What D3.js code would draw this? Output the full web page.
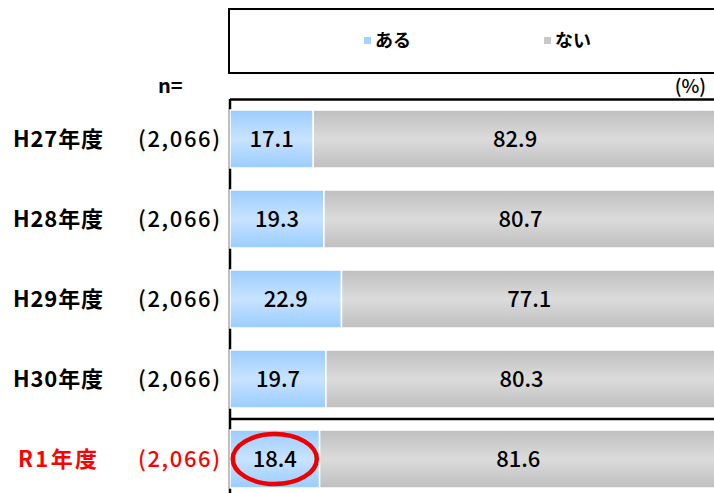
<!DOCTYPE html>
<html>
<head>
<meta charset="utf-8">
<script src="https://cdn.jsdelivr.net/npm/d3@7"></script>
<style>
  body { margin: 0; background: #fff; }
  svg text { font-family: "Noto Sans CJK JP", "Noto Sans", sans-serif; }
</style>
</head>
<body>
<div id="chart"></div>
<script>
/* DATA */
const years = ["H27年度", "H28年度", "H29年度", "H30年度", "R1年度"];
const nLabels = ["(2,066)", "(2,066)", "(2,066)", "(2,066)", "(2,066)"];
const aru = [17.1, 19.3, 22.9, 19.7, 18.4];
const nai = [82.9, 80.7, 77.1, 80.3, 81.6];
const seriesNames = ["ある", "ない"];
const highlightYear = "R1年度";

const width = 714,
  height = 493;

const svg = d3.select("#chart")
  .append("svg")
  .attr("width", width)
  .attr("height", height);

// gradients (dark edges, light middle)
const defs = svg.append("defs");
function grad(id, edge, mid) {
  const g = defs.append("linearGradient")
    .attr("id", id)
    .attr("x1", 0).attr("y1", 0).attr("x2", 0).attr("y2", 1);
  g.append("stop").attr("offset", "0%").attr("stop-color", edge);
  g.append("stop").attr("offset", "50%").attr("stop-color", mid);
  g.append("stop").attr("offset", "100%").attr("stop-color", edge);
}
grad("g-aru", "#9accff", "#c8e3ff");
grad("g-nai", "#bfbfbf", "#dbdbdb");
const fills = ["url(#g-aru)", "url(#g-nai)"];
const swatch = ["#a6d2ff", "#c8c8c8"];

/* SCALES */
const xScale = d3.scaleLinear().domain([0, 100]).range([230, 717]);
const yScale = d3.scaleBand()
  .domain(years)
  .range([99, 499])
  .paddingInner(0.275)
  .paddingOuter(0.1375);

// stacked rows
const rows = years.map((y, i) => ({ year: y, n: nLabels[i], aru: aru[i], nai: nai[i] }));
const stack = d3.stack().keys(["aru", "nai"])(rows);

/* LEGEND BOX */
svg.append("rect")
  .attr("x", 229).attr("y", 9)
  .attr("width", 520).attr("height", 64)
  .attr("fill", "none")
  .attr("stroke", "#000")
  .attr("stroke-width", 2);

const legendX = [364, 544];
const legend = svg.append("g").selectAll("g")
  .data(seriesNames)
  .join("g")
  .attr("transform", (d, i) => `translate(${legendX[i]},41)`);
legend.append("rect")
  .attr("x", 0).attr("y", -4)
  .attr("width", 7).attr("height", 7)
  .attr("fill", (d, i) => swatch[i]);
legend.append("text")
  .attr("x", 11).attr("y", 0)
  .attr("dy", "0.36em")
  .attr("font-size", 18)
  .attr("font-weight", "bold")
  .text(d => d);

/* FRAME / AXIS */
svg.append("text")
  .attr("x", 706).attr("y", 93)
  .attr("text-anchor", "end")
  .attr("font-size", 19)
  .attr("font-weight", 500)
  .text("(%)");

svg.append("text")
  .attr("x", 158).attr("y", 93)
  .attr("font-size", 20)
  .attr("font-weight", "bold")
  .text("n=");

svg.append("line")
  .attr("x1", xScale(0)).attr("x2", width)
  .attr("y1", 99.5).attr("y2", 99.5)
  .attr("stroke", "#000").attr("stroke-width", 2.5);

svg.append("line")
  .attr("x1", xScale(0)).attr("x2", xScale(0))
  .attr("y1", 99).attr("y2", height)
  .attr("stroke", "#000").attr("stroke-width", 2.5);

// separator above the highlighted year
const sepY = yScale(highlightYear) - yScale.step() * yScale.paddingInner() / 2;
svg.append("line")
  .attr("x1", xScale(0)).attr("x2", width)
  .attr("y1", sepY).attr("y2", sepY)
  .attr("stroke", "#000").attr("stroke-width", 2.5);

/* BARS */
const layer = svg.append("g").selectAll("g")
  .data(stack)
  .join("g")
  .attr("fill", (d, i) => fills[i]);

layer.selectAll("rect")
  .data(d => d)
  .join("rect")
  .attr("x", d => xScale(d[0]))
  .attr("y", d => yScale(d.data.year))
  .attr("width", d => xScale(d[1]) - xScale(d[0]))
  .attr("height", yScale.bandwidth())
  .attr("stroke", "#fff")
  .attr("stroke-width", 1.5);

layer.selectAll("text")
  .data(d => d.map(v => ({ v, key: d.key })))
  .join("text")
  .attr("x", d => xScale((d.v[0] + d.v[1]) / 2))
  .attr("y", d => yScale(d.v.data.year) + yScale.bandwidth() / 2)
  .attr("dy", "0.36em")
  .attr("text-anchor", "middle")
  .attr("font-size", 22)
  .attr("font-weight", 500)
  .attr("fill", "#000")
  .text(d => d.v.data[d.key].toFixed(1));

/* ROW LABELS */
const labelColor = d => d === highlightYear ? "#ff0000" : "#000";
svg.append("g").selectAll("text")
  .data(years)
  .join("text")
  .attr("x", d => d.length === 5 ? 13 : 18)
  .attr("y", d => yScale(d) + yScale.bandwidth() / 2)
  .attr("dy", "0.36em")
  .attr("font-size", 22)
  .attr("font-weight", "bold")
  .attr("textLength", d => d.length === 5 ? 90 : 79)
  .attr("fill", labelColor)
  .text(d => d);

svg.append("g").selectAll("text")
  .data(rows)
  .join("text")
  .attr("x", 138)
  .attr("y", d => yScale(d.year) + yScale.bandwidth() / 2)
  .attr("dy", "0.36em")
  .attr("font-size", 22)
  .attr("font-weight", 500)
  .attr("textLength", 82)
  .attr("fill", d => labelColor(d.year))
  .text(d => d.n);

/* HIGHLIGHT ELLIPSE */
const hi = years.indexOf(highlightYear);
svg.append("ellipse")
  .attr("cx", xScale(aru[hi] / 2))
  .attr("cy", yScale(highlightYear) + yScale.bandwidth() / 2)
  .attr("rx", 42)
  .attr("ry", 25)
  .attr("fill", "none")
  .attr("stroke", "#ee0000")
  .attr("stroke-width", 4.5);
</script>
</body>
</html>
